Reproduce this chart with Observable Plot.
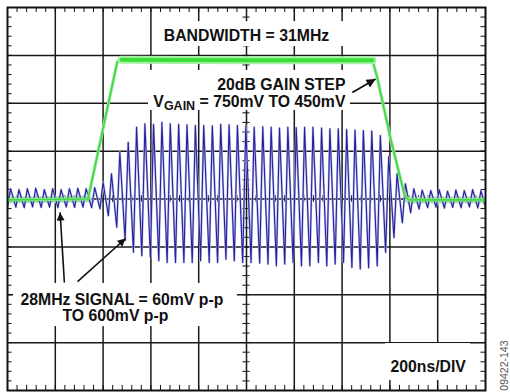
<!DOCTYPE html>
<html><head><meta charset="utf-8">
<script src="https://cdn.jsdelivr.net/npm/d3@7"></script>
<script src="https://cdn.jsdelivr.net/npm/@observablehq/plot@0.6"></script>
<style>body{margin:0;background:#fff}</style>
</head><body><div id="chart"></div>
<script>
// 28MHz signal: peak and trough times (ns) and values (mV)
const peakT = [13, 48, 83, 118, 154, 189, 224, 259, 294, 329, 365, 400, 435, 470, 505, 540, 575, 611, 646, 681, 716, 751, 786, 821, 857, 892, 927, 962, 997, 1032, 1068, 1103, 1138, 1173, 1208, 1243, 1278, 1314, 1349, 1384, 1419, 1454, 1489, 1524, 1560, 1595, 1630, 1665, 1700, 1735, 1771, 1806, 1841, 1876, 1911, 1946, 1981];
const peakV = [43, 39, 43, 45, 39, 43, 39, 43, 45, 43, 48, 70, 105, 195, 237, 300, 314, 312, 320, 314, 312, 310, 307, 307, 306, 312, 310, 307, 306, 300, 302, 300, 296, 300, 298, 300, 300, 296, 293, 293, 290, 288, 286, 284, 265, 177, 106, 64, 43, 37, 35, 39, 33, 37, 35, 39, 35];
const troughT = [0, 35, 70, 105, 141, 176, 211, 246, 281, 316, 352, 387, 422, 457, 492, 527, 562, 598, 633, 668, 703, 738, 773, 808, 844, 879, 914, 949, 984, 1019, 1055, 1090, 1125, 1160, 1195, 1230, 1265, 1301, 1336, 1371, 1406, 1441, 1476, 1511, 1547, 1582, 1617, 1652, 1687, 1722, 1758, 1793, 1828, 1863, 1898, 1933, 1968, 2000];
const troughV = [-34, -34, -36, -33, -35, -34, -36, -33, -35, -34, -36, -41, -70, -118, -173, -222, -237, -244, -258, -265, -265, -265, -265, -258, -265, -265, -251, -258, -265, -265, -267, -271, -279, -271, -265, -279, -279, -265, -279, -271, -265, -286, -292, -287, -279, -222, -162, -99, -57, -42, -36, -34, -38, -35, -36, -33, -37, -35];
// Gain step (green trace)
const greenT = [0, 337, 459, 477, 1000, 1527, 1548, 1603, 1661, 1678, 2000];
const greenV = [-4, 0, 572, 582, 580, 580, 503, 251, 18, -4, -4];
// Grid (200ns/div, 200mV/div)
const gridX = [200, 400, 600, 800, 1000, 1200, 1400, 1600, 1800];
const gridY = [-600, -400, -200, 0, 200, 400, 600];
const minorX = d3.range(0, 2001, 40);
const minorY = d3.range(-800, 801, 40);
// Texts
const txtBandwidth = "BANDWIDTH = 31MHz";
const txtGain1 = "20dB GAIN STEP";
const txtGain2 = "VGAIN = 750mV TO 450mV";
const txtSig1 = "28MHz SIGNAL = 60mV p-p";
const txtSig2 = "TO 600mV p-p";
const txtDiv = "200ns/DIV";
const txtId = "09422-143";

const blue = [];
for (let i = 0; i < troughT.length; i++) {
  blue.push({t: troughT[i], v: troughV[i]});
  if (i < peakT.length) blue.push({t: peakT[i], v: peakV[i]});
}
const green = greenT.map((t, i) => ({t, v: greenV[i]}));
const greenFlat = green.filter(d => d.v >= 578);
const greenBase = green.filter(d => d.v <= 0).map(d => ({...d, z: d.t < 1000 ? "a" : "b"}));

const FONT = "'Liberation Sans', Arial, Helvetica, sans-serif";
const FS = 15.8;
const ink = "#111";

const svg = Plot.plot({
  width: 510, height: 392,
  marginLeft: 7, marginRight: 25, marginTop: 7, marginBottom: 2,
  x: {domain: [0, 2000], axis: null},
  y: {domain: [-800, 800], axis: null},
  style: {background: "#fff", overflow: "visible"},
  marks: [
    Plot.ruleX(gridX, {stroke: "#1a1a1a", strokeWidth: 1.5}),
    Plot.ruleY(gridY, {stroke: "#1a1a1a", strokeWidth: 1.5}),
    // minor ticks on borders
    Plot.ruleX(minorX, {y1: 800, y2: 779, stroke: ink, strokeWidth: 1}),
    Plot.ruleX(minorX, {y1: -800, y2: -779, stroke: ink, strokeWidth: 1}),
    Plot.ruleY(minorY, {x1: 0, x2: 19, stroke: ink, strokeWidth: 1}),
    Plot.ruleY(minorY, {x1: 2000, x2: 1981, stroke: ink, strokeWidth: 1}),
    // minor ticks on centre axes
    Plot.ruleX(minorX, {y1: -14, y2: 14, stroke: ink, strokeWidth: 1}),
    Plot.ruleY(minorY, {x1: 985, x2: 1015, stroke: ink, strokeWidth: 1}),
    // green baseline band
    Plot.line(greenBase, {x: "t", y: "v", z: "z", stroke: "#a8eca8", strokeWidth: 7, clip: true}),
    Plot.line(greenBase, {x: "t", y: "v", z: "z", stroke: "#3bdc3b", strokeWidth: 3.5, clip: true}),
    // blue signal
    Plot.line(blue, {x: "t", y: "v", stroke: "#bcbcec", strokeWidth: 2.2, clip: true}),
    Plot.line(blue, {x: "t", y: "v", stroke: "#23239b", strokeWidth: 1.1, clip: true}),
    // green step
    Plot.line(green, {x: "t", y: "v", stroke: "#9aea9a", strokeWidth: 3.2, clip: true}),
    Plot.line(green, {x: "t", y: "v", stroke: "#44d844", strokeWidth: 1.7, clip: true}),
    Plot.line(greenFlat, {x: "t", y: "v", stroke: "#a6f0a6", strokeWidth: 8}),
    Plot.line(greenFlat, {x: "t", y: "v", stroke: "#38e038", strokeWidth: 4}),
    // white label boxes
    Plot.rect([0], {x1: 628, x2: 1414, y1: 637, y2: 741, fill: "#fff"}),
    Plot.rect([0], {x1: 590, x2: 1435, y1: 370, y2: 537, fill: "#fff"}),
    Plot.rect([0], {x1: 25, x2: 962, y1: -533, y2: -353, fill: "#fff"}),
    Plot.rect([0], {x1: 1582, x2: 1937, y1: -758, y2: -604, fill: "#fff"}),
    // texts
    Plot.text([txtBandwidth], {x: 1000, y: 659, text: d => d, textAnchor: "middle", lineAnchor: "bottom", fontFamily: FONT, fontSize: FS, fontWeight: "bold", fill: ink}),
    Plot.text([txtGain1], {x: 1414, y: 456, text: d => d, textAnchor: "end", lineAnchor: "bottom", fontFamily: FONT, fontSize: FS, fontWeight: "bold", fill: ink}),
    Plot.text([txtGain2], {x: 1414, y: 386, text: d => d, textAnchor: "end", lineAnchor: "bottom", fontFamily: FONT, fontSize: FS, fontWeight: "bold", fill: ink}),
    Plot.text([txtSig1], {x: 54, y: -442, text: d => d, textAnchor: "start", lineAnchor: "bottom", fontFamily: FONT, fontSize: FS, fontWeight: "bold", fill: ink}),
    Plot.text([txtSig2], {x: 230, y: -510, text: d => d, textAnchor: "start", lineAnchor: "bottom", fontFamily: FONT, fontSize: FS, fontWeight: "bold", fill: ink}),
    Plot.text([txtDiv], {x: 1602, y: -723, text: d => d, textAnchor: "start", lineAnchor: "bottom", fontFamily: FONT, fontSize: FS, fontWeight: "bold", fill: ink}),
    Plot.text([txtId], {x: 2078, y: -696, text: d => d, rotate: -90, textAnchor: "middle", lineAnchor: "middle", fontFamily: FONT, fontSize: 10.5, fill: "#555"}),
    // arrows
    Plot.link([[1443, 445, 1540, 501]], {x1: d => d[0], y1: d => d[1], x2: d => d[2], y2: d => d[3], stroke: ink, strokeWidth: 1.8}),
    Plot.link([[238, -349, 220, -56], [293, -345, 494, -165]], {x1: d => d[0], y1: d => d[1], x2: d => d[2], y2: d => d[3], stroke: ink, strokeWidth: 1.6}),
    Plot.frame({stroke: ink, strokeWidth: 2})
  ]
});

// subscript for V_GAIN
svg.querySelectorAll("text").forEach(el => {
  if (el.textContent === txtGain2) {
    el.textContent = "";
    const ns = "http://www.w3.org/2000/svg";
    const a = document.createElementNS(ns, "tspan"); a.textContent = "V";
    const b = document.createElementNS(ns, "tspan"); b.textContent = "GAIN";
    b.setAttribute("font-size", "12.5"); b.setAttribute("dy", "3");
    const c = document.createElementNS(ns, "tspan"); c.textContent = " = 750mV TO 450mV";
    c.setAttribute("dy", "-3");
    el.append(a, b, c);
  }
});

// filled arrowheads
const defs = d3.select(svg).append("defs");
function marker(id, w, h) {
  defs.append("marker").attr("id", id).attr("viewBox", "0 0 10 10")
    .attr("refX", 10).attr("refY", 5).attr("markerWidth", w).attr("markerHeight", h)
    .attr("markerUnits", "userSpaceOnUse").attr("orient", "auto")
    .append("path").attr("d", "M0,0L10,5L0,10Z").attr("fill", ink);
}
marker("ahBig", 13, 9);
marker("ahSmall", 11, 8);
const linkGroups = svg.querySelectorAll('g[aria-label="link"]');
if (linkGroups[0]) linkGroups[0].querySelectorAll("path").forEach(p => p.setAttribute("marker-end", "url(#ahBig)"));
if (linkGroups[1]) linkGroups[1].querySelectorAll("path").forEach(p => p.setAttribute("marker-end", "url(#ahSmall)"));

document.getElementById("chart").appendChild(svg);
</script>
</body></html>
